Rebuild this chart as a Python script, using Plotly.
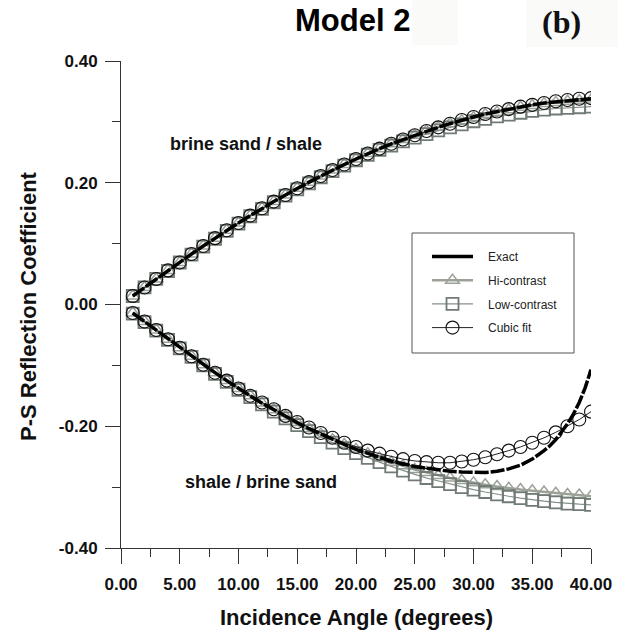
import plotly.graph_objects as go

# ---------------- data ----------------
angles = list(range(1, 41))

# upper branch: brine sand / shale
exact_up = [0.014, 0.028, 0.042, 0.056, 0.069, 0.083, 0.096, 0.109, 0.122, 0.134,
            0.146, 0.158, 0.169, 0.180, 0.191, 0.201, 0.211, 0.221, 0.230, 0.239,
            0.248, 0.256, 0.264, 0.271, 0.278, 0.285, 0.291, 0.297, 0.303, 0.308,
            0.313, 0.317, 0.321, 0.325, 0.328, 0.331, 0.333, 0.335, 0.337, 0.338]
hi_up = [0.014, 0.028, 0.042, 0.056, 0.069, 0.083, 0.096, 0.109, 0.122, 0.134,
         0.146, 0.158, 0.169, 0.180, 0.191, 0.201, 0.211, 0.221, 0.230, 0.239,
         0.248, 0.256, 0.264, 0.271, 0.278, 0.285, 0.291, 0.297, 0.302, 0.307,
         0.312, 0.316, 0.320, 0.324, 0.327, 0.330, 0.332, 0.334, 0.335, 0.336]
low_up = [0.014, 0.028, 0.042, 0.055, 0.069, 0.082, 0.095, 0.108, 0.121, 0.133,
          0.145, 0.157, 0.168, 0.179, 0.189, 0.199, 0.209, 0.219, 0.228, 0.237,
          0.246, 0.254, 0.261, 0.268, 0.274, 0.280, 0.286, 0.291, 0.296, 0.301,
          0.305, 0.309, 0.312, 0.315, 0.318, 0.320, 0.322, 0.323, 0.324, 0.325]
cubic_up = [0.014, 0.028, 0.042, 0.056, 0.069, 0.083, 0.096, 0.109, 0.122, 0.134,
            0.146, 0.158, 0.169, 0.180, 0.191, 0.201, 0.211, 0.221, 0.230, 0.239,
            0.248, 0.256, 0.264, 0.271, 0.278, 0.285, 0.291, 0.297, 0.303, 0.308,
            0.313, 0.317, 0.321, 0.325, 0.328, 0.331, 0.334, 0.336, 0.338, 0.339]

# lower branch: shale / brine sand
exact_lo_angles = list(range(1, 37)) + [36.5, 37, 37.5, 38, 38.5, 39, 39.5, 40]
exact_lo = [-0.014, -0.028, -0.042, -0.057, -0.071, -0.085, -0.099, -0.112, -0.125, -0.138,
            -0.150, -0.162, -0.173, -0.184, -0.194, -0.204, -0.213, -0.222, -0.230, -0.238,
            -0.245, -0.251, -0.257, -0.262, -0.266, -0.269, -0.272, -0.274, -0.275, -0.276,
            -0.276, -0.274, -0.270, -0.264, -0.254, -0.240,
            -0.232, -0.222, -0.210, -0.196, -0.180, -0.161, -0.137, -0.107]
hi_lo = [-0.014, -0.028, -0.042, -0.057, -0.071, -0.085, -0.099, -0.112, -0.125, -0.138,
         -0.150, -0.162, -0.173, -0.184, -0.194, -0.204, -0.213, -0.222, -0.230, -0.238,
         -0.245, -0.252, -0.259, -0.265, -0.271, -0.276, -0.281, -0.285, -0.289, -0.293,
         -0.296, -0.299, -0.302, -0.304, -0.306, -0.308, -0.310, -0.312, -0.313, -0.315]
low_lo = [-0.015, -0.029, -0.043, -0.058, -0.072, -0.086, -0.100, -0.114, -0.127, -0.140,
          -0.152, -0.164, -0.176, -0.187, -0.198, -0.208, -0.218, -0.227, -0.236, -0.244,
          -0.252, -0.259, -0.266, -0.273, -0.279, -0.285, -0.290, -0.295, -0.300, -0.304,
          -0.308, -0.312, -0.315, -0.318, -0.321, -0.323, -0.325, -0.327, -0.328, -0.329]
cubic_lo = [-0.014, -0.028, -0.042, -0.057, -0.071, -0.085, -0.099, -0.112, -0.125, -0.138,
            -0.150, -0.161, -0.172, -0.183, -0.193, -0.202, -0.211, -0.219, -0.227, -0.234,
            -0.240, -0.245, -0.250, -0.254, -0.257, -0.259, -0.260, -0.260, -0.258, -0.255,
            -0.251, -0.246, -0.240, -0.234, -0.227, -0.219, -0.210, -0.200, -0.189, -0.176]

x_ticks = [0, 5, 10, 15, 20, 25, 30, 35, 40]
x_tick_labels = ["0.00", "5.00", "10.00", "15.00", "20.00", "25.00", "30.00", "35.00", "40.00"]
y_ticks = [-0.4, -0.2, 0.0, 0.2, 0.4]
y_tick_labels = ["-0.40", "-0.20", "0.00", "0.20", "0.40"]

# ---------------- styles ----------------
HI_COL = "#9da299"
LOW_COL = "#6f7b74"
LOW_LINE = "#84908a"
BOLD = "Liberation Sans"
PAD = "\u00a0\u00a0\u00a0"   # gap between legend symbol and text

fig = go.Figure()

def add_pair(name, ys_up, ys_lo, xs_lo, line, marker, rank, mode, legend=True):
    fig.add_trace(go.Scatter(x=angles, y=ys_up, mode=mode, line=line, marker=marker,
                             name=PAD + name, legendgroup=name, showlegend=legend,
                             legendrank=rank))
    fig.add_trace(go.Scatter(x=xs_lo, y=ys_lo, mode=mode, line=line, marker=marker,
                             name=PAD + name, legendgroup=name, showlegend=False))

add_pair("Hi-contrast", hi_up, hi_lo, angles,
         dict(color=HI_COL, width=2.5),
         dict(symbol="triangle-up-open", size=12, color=HI_COL, line=dict(width=1.5)),
         2, "lines+markers")
add_pair("Low-contrast", low_up, low_lo, angles,
         dict(color=LOW_LINE, width=1.2),
         dict(symbol="square-open", size=12, color=LOW_COL, line=dict(width=1.8)),
         3, "lines+markers")
add_pair("Cubic fit", cubic_up, cubic_lo, angles,
         dict(color="#222222", width=1),
         dict(symbol="circle-open", size=13, color="#111111", line=dict(width=1.1)),
         4, "lines+markers")
add_pair("Exact", exact_up, exact_lo, exact_lo_angles,
         dict(color="#000000", width=3.5, dash="14px,2px"),
         None, 1, "lines", legend=False)
# legend proxy for the solid "Exact" entry
fig.add_trace(go.Scatter(x=[None], y=[None], mode="lines", name=PAD + "Exact",
                         line=dict(color="#000000", width=3.5), legendrank=1,
                         legendgroup="Exact"))

axis_common = dict(
    showline=True, linecolor="#333333", linewidth=1, mirror=False,
    ticks="outside", ticklen=15, tickwidth=1, tickcolor="#333333",
    showgrid=False, zeroline=False,
    tickfont=dict(family=BOLD, size=17, color="#111111", weight="bold"),
)

fig.update_xaxes(range=[0, 40], tickvals=x_ticks, ticktext=x_tick_labels,
                 minor=dict(ticks="outside", ticklen=8, dtick=2.5, tickcolor="#333333",
                            showgrid=False),
                 ticklabelstandoff=6,
                 **axis_common)
fig.update_yaxes(range=[-0.4, 0.4], tickvals=y_ticks, ticktext=y_tick_labels,
                 minor=dict(ticks="outside", ticklen=8, dtick=0.1, tickcolor="#333333",
                            showgrid=False),
                 ticklabelstandoff=4,
                 **axis_common)

# plot area: x 121..591, y 61..548
L, R, T, B = 121, 48, 61, 91
W = H = 639
pw, ph = W - L - R, H - T - B

def px(xp):
    return (xp - L) / pw

def py(yp):
    return (H - B - yp) / ph

fig.update_layout(
    width=W, height=H,
    margin=dict(l=L, r=R, t=T, b=B, pad=0),
    paper_bgcolor="white", plot_bgcolor="white",
    showlegend=True,
    legend=dict(x=px(427), y=py(242), xanchor="left", yanchor="top",
                bgcolor="rgba(0,0,0,0)", borderwidth=0,
                font=dict(family="Liberation Sans", size=12, color="#222222"),
                traceorder="grouped", tracegroupgap=4.7, itemwidth=41),
    shapes=[
        dict(type="rect", xref="paper", yref="paper", x0=px(412), x1=px(574),
             y0=py(353), y1=py(233), line=dict(color="#555555", width=1),
             fillcolor="rgba(0,0,0,0)", layer="above"),
        dict(type="rect", xref="paper", yref="paper", x0=px(412), x1=px(458),
             y0=py(45), y1=py(0), line=dict(width=0), fillcolor="#fafaf8"),
        dict(type="rect", xref="paper", yref="paper", x0=px(526), x1=px(618),
             y0=py(47), y1=py(0), line=dict(width=0), fillcolor="#fafaf8"),
    ],
    annotations=[
        dict(text="Model 2", xref="paper", yref="paper", x=px(352), y=py(21),
             xanchor="center", yanchor="middle", showarrow=False,
             font=dict(family=BOLD, size=31, color="#000000", weight="bold")),
        dict(text="(b)", xref="paper", yref="paper", x=px(561), y=py(22),
             xanchor="center", yanchor="middle", showarrow=False,
             font=dict(family="Liberation Serif", size=32, color="#111111", weight="bold")),
        dict(text="Incidence Angle (degrees)", xref="paper", yref="paper",
             x=px(356), y=py(617), xanchor="center", yanchor="middle", showarrow=False,
             font=dict(family=BOLD, size=22, color="#111111", weight="bold")),
        dict(text="P-S Reflection Coefficient", xref="paper", yref="paper",
             x=px(28), y=py(306), xanchor="center", yanchor="middle", showarrow=False,
             textangle=-90,
             font=dict(family=BOLD, size=22, color="#111111", weight="bold")),
        dict(text="brine sand / shale", x=10.6, y=0.264, xref="x", yref="y",
             xanchor="center", yanchor="middle", showarrow=False,
             font=dict(family=BOLD, size=18, color="#111111", weight="bold")),
        dict(text="shale / brine sand", x=11.9, y=-0.292, xref="x", yref="y",
             xanchor="center", yanchor="middle", showarrow=False,
             font=dict(family=BOLD, size=18, color="#111111", weight="bold")),
    ],
)

fig.write_html("out.html")
